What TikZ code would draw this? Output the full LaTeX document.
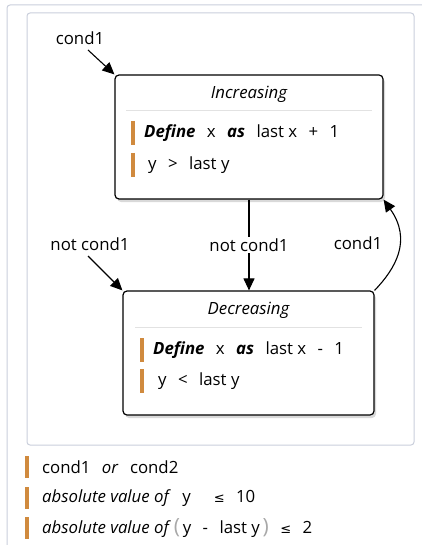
\documentclass[tikz,border=0pt]{standalone}
\usepackage{fontspec}
\setmainfont{Open Sans}
\newfontfamily\symfont{DejaVu Sans}
\usepackage{tikz}
\usetikzlibrary{arrows.meta,positioning,shadows,calc}
\definecolor{FrameGray}{HTML}{C9CEDB}
\definecolor{RuleGray}{HTML}{E2E2E2}
\definecolor{BarOrange}{HTML}{D08A3E}
\definecolor{ParenGray}{HTML}{A8A8A8}
\newcommand{\bodysize}{\fontsize{16.8}{19}\selectfont}
\tikzset{
  % State box
  SB/.style={rectangle,rounded corners=4pt,draw=black,line width=1.2pt,fill=white,
             minimum width=268pt,minimum height=124pt,
             drop shadow={shadow xshift=2pt,shadow yshift=-3pt,opacity=0.3}},
  % Box title
  TT/.style={font=\bodysize\itshape,inner sep=0pt},
  % Condition text
  CL/.style={anchor=west,inner sep=0pt},
  % Arrow
  arr/.style={-{Triangle[length=12pt,width=11pt]},line width=1.1pt},
  % Edge label
  LB/.style={inner sep=1.5pt,fill=white},
  % Orange bar
  bar/.style={BarOrange,line width=3.2pt},
  frame/.style={FrameGray,line width=1pt,rounded corners=3pt}
}
\newcommand{\kw}[1]{\textbf{\textit{#1}}}
\newcommand{\gap}{\hspace{0.68em}}
\begin{document}
\begin{tikzpicture}[x=1pt,y=-1pt,font=\bodysize]
  \useasboundingbox (0,0) rectangle (422,545);
  \draw[frame] (7,5) rectangle (440,570);
  \draw[frame] (27,13) rectangle (414,445);

  % states
  \node[SB] (inc) at (249,137) {};
  \node[SB,minimum width=251pt] (dec) at (248.5,353) {};

  \node[TT] (incT) at (249,94) {Increasing};
  \draw[RuleGray,thick] (126,110) -- (372,110);
  \draw[bar] (133,121) -- (133,145);
  \node[CL] (incA) at (144,133) {\kw{Define}\gap x\gap\kw{as}\gap last x\gap+\gap 1};
  \draw[bar] (133,153) -- (133,177);
  \node[CL] (incB) at (148,165) {y\gap >\gap last y};

  \node[TT] (decT) at (248.5,310) {Decreasing};
  \draw[RuleGray,thick] (135,327) -- (362,327);
  \draw[bar] (142,338) -- (142,362);
  \node[CL] (decA) at (153,350) {\kw{Define}\gap x\gap\kw{as}\gap last x\gap-\gap 1};
  \draw[bar] (142,369) -- (142,393);
  \node[CL] (decB) at (158,381) {y\gap <\gap last y};

  % transitions
  \node (c1) at (80,38) {cond1};
  \node (nc1) at (90,244) {not cond1};
  \coordinate (c1s) at (88,50);
  \coordinate (nc1s) at (88,256);
  \draw[arr] (c1s) -- (inc.north west);
  \draw[arr] (nc1s) -- (dec.north west);
  \draw[arr] (inc.south) -- node[LB]{not cond1} (dec.north -| inc.south);
  \draw[arr] (dec.north east) .. controls (396,268) and (412,240) .. (inc.south east);
  \node (c1r) at (358,243) {cond1};

  % legend
  \draw[bar] (27,456) -- (27,478);
  \node[CL] (lg1) at (42,467) {cond1\gap\textit{or}\gap cond2};
  \draw[bar] (27,487) -- (27,509);
  \node[CL] (lg2) at (42,498) {\textit{absolute value of}\gap y\gap\gap{\symfont\fontsize{13}{15}\selectfont ≤}\gap 10};
  \draw[bar] (27,517) -- (27,539);
  \node[CL] (lg3) at (42,528) {\textit{absolute value of}\,{\color{ParenGray}\fontsize{21}{23}\selectfont(}\,y\gap-\gap last y\,{\color{ParenGray}\fontsize{21}{23}\selectfont)}\gap{\symfont\fontsize{13}{15}\selectfont ≤}\gap 2};
\end{tikzpicture}
\end{document}
